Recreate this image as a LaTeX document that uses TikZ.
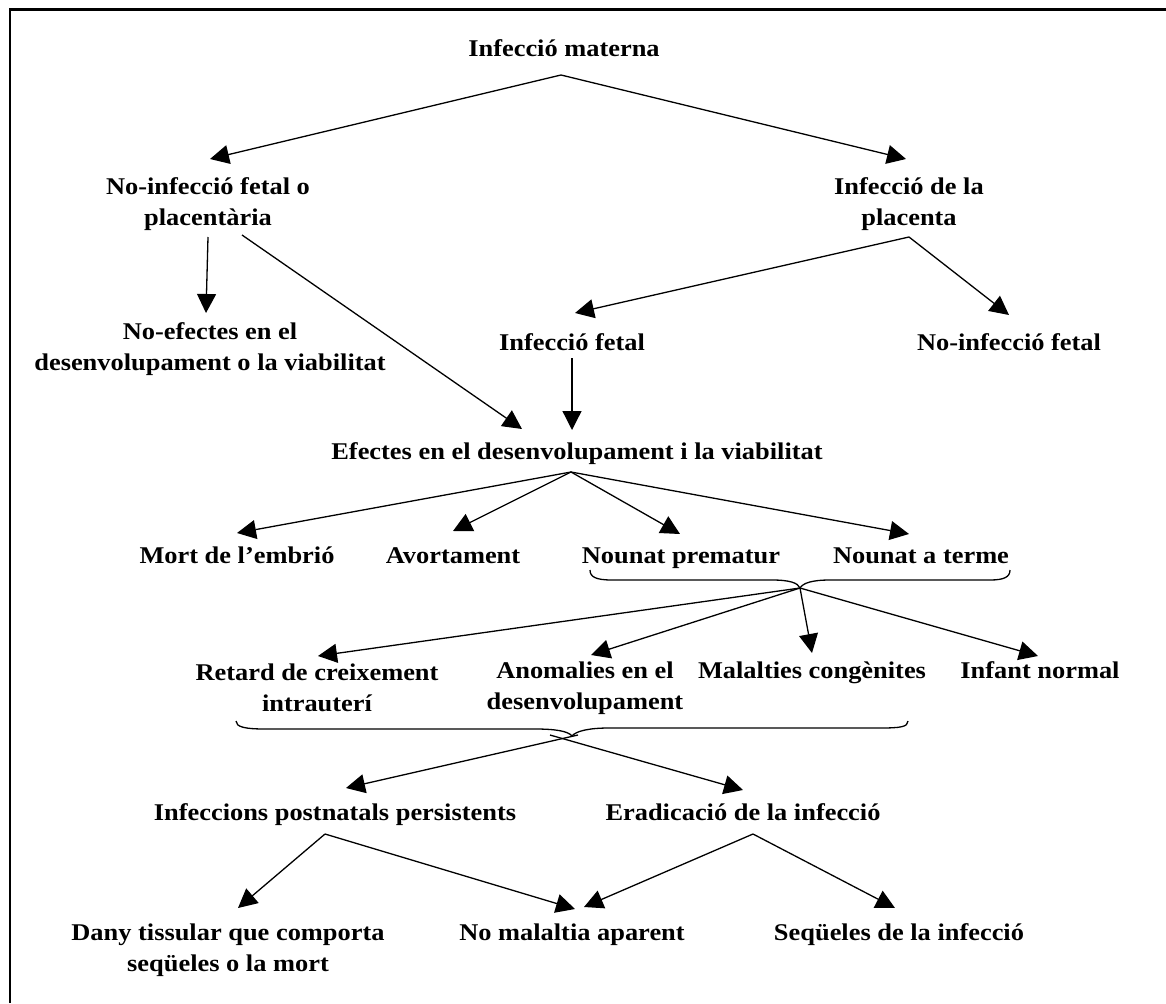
\documentclass[tikz,border=0pt]{standalone}
\usepackage{fontspec}
\setmainfont{Liberation Serif}[FakeStretch=1.1]
\usetikzlibrary{arrows.meta,calc}
\begin{document}
\begin{tikzpicture}[x=1pt,y=-1pt,
  lbl/.style={font=\fontsize{24}{31}\selectfont\bfseries, inner sep=0pt},
  one/.style={lbl, text height=17pt, text depth=5pt},
  two/.style={lbl, align=center},
  arr/.style={line width=1.3pt, -{Triangle[length=19pt,width=19pt]}},
  brc/.style={line width=1.3pt}]
\useasboundingbox (0,0) rectangle (1166,1003);
\draw[line width=2.8pt] (10,1003) -- (10,9.7) -- (1166,9.7);

% nodes
\node[one] (im)   at (564,51)  {Infecció materna};
\node[two] (nifp) at (208,204) {No-infecció fetal o\\placentària};
\node[two] (ipl)  at (909,204) {Infecció de la\\placenta};
\node[two] (nod)  at (210,349) {No-efectes en el\\desenvolupament o la viabilitat};
\node[one] (ife)  at (572,344) {Infecció fetal};
\node[one] (nif)  at (1009,344) {No-infecció fetal};
\node[one] (ef)   at (577,453) {Efectes en el desenvolupament i la viabilitat};
\node[one] (mort) at (237,557) {Mort de l’embrió};
\node[one] (avo)  at (453,557) {Avortament};
\node[one] (npr)  at (681,557) {Nounat prematur};
\node[one] (nat)  at (921,557) {Nounat a terme};
\node[two] (ret)  at (317,688) {Retard de creixement\\intrauterí};
\node[two] (ano)  at (585,688) {Anomalies en el\\desenvolupament};
\node[one] (mal)  at (812,672) {Malalties congènites};
\node[one] (inf)  at (1040,672) {Infant normal};
\node[one] (ipp)  at (335,814) {Infeccions postnatals persistents};
\node[one] (era)  at (743,814) {Eradicació de la infecció};
\node[two] (dany) at (228,950) {Dany tissular que comporta\\seqüeles o la mort};
\node[one] (nma)  at (572,934) {No malaltia aparent};
\node[one] (seq)  at (899,934) {Seqüeles de la infecció};

% braces
\coordinate (b1) at (800,588);
\coordinate (b2l) at (550,735);
\coordinate (b2r) at (578,735);
\draw[brc] (590,570) .. controls (590,577) and (596,580) .. (612,580) -- (772,580)
  .. controls (790,580) and (798,583) .. (b1)
  .. controls (803,583) and (812,580) .. (830,580) -- (990,580)
  .. controls (1004,580) and (1010,577) .. (1010,570);
\draw[brc] (236,721) .. controls (236,727) and (245,729) .. (265,729) -- (535,729)
  .. controls (555,729) and (568,731) .. (572,736)
  .. controls (576,731) and (589,728) .. (609,728) -- (880,728)
  .. controls (900,728) and (908,727) .. (908,721);

% connectors
\draw[arr] ($(im)+(-3,24)$) -- ($(nifp)+(2,-45)$);
\draw[arr] ($(im)+(-3,24)$) -- ($(ipl)+(-3,-45)$);
\draw[arr] ($(nifp)+(0,33)$) -- ($(nod)+(-4,-36)$);
\draw[arr] ($(nifp)+(34,31)$) -- ($(ef)+(-55,-24)$);
\draw[arr] ($(ipl)+(0,33)$) -- ($(ife)+(3,-31)$);
\draw[arr] ($(ipl)+(0,33)$) -- ($(nif)+(0,-29)$);
\draw[arr] ($(ife)+(0,14)$) -- ($(ef)+(-5,-23)$);
\draw[arr] ($(ef)+(-6,19)$) -- ($(mort)+(0,-24)$);
\draw[arr] ($(ef)+(-6,19)$) -- ($(avo)+(0,-26)$);
\draw[arr] ($(ef)+(-6,19)$) -- ($(npr)+(-1,-23)$);
\draw[arr] ($(ef)+(-6,19)$) -- ($(nat)+(-12,-23)$);
\draw[arr] (b1) -- ($(ret)+(1,-32)$);
\draw[arr] (b1) -- ($(ano)+(6,-33)$);
\draw[arr] (b1) -- ($(mal)+(0,-19)$);
\draw[arr] (b1) -- ($(inf)+(-2,-16)$);
\draw[arr] (b2r) -- ($(ipp)+(11,-26)$);
\draw[arr] (b2l) -- ($(era)+(0,-24)$);
\draw[arr] ($(ipp)+(-10,20)$) -- ($(dany)+(10,-42)$);
\draw[arr] ($(ipp)+(-10,20)$) -- ($(nma)+(3,-25)$);
\draw[arr] ($(era)+(10,20)$) -- ($(nma)+(12,-27)$);
\draw[arr] ($(era)+(10,20)$) -- ($(seq)+(-4,-26)$);
\end{tikzpicture}
\end{document}
